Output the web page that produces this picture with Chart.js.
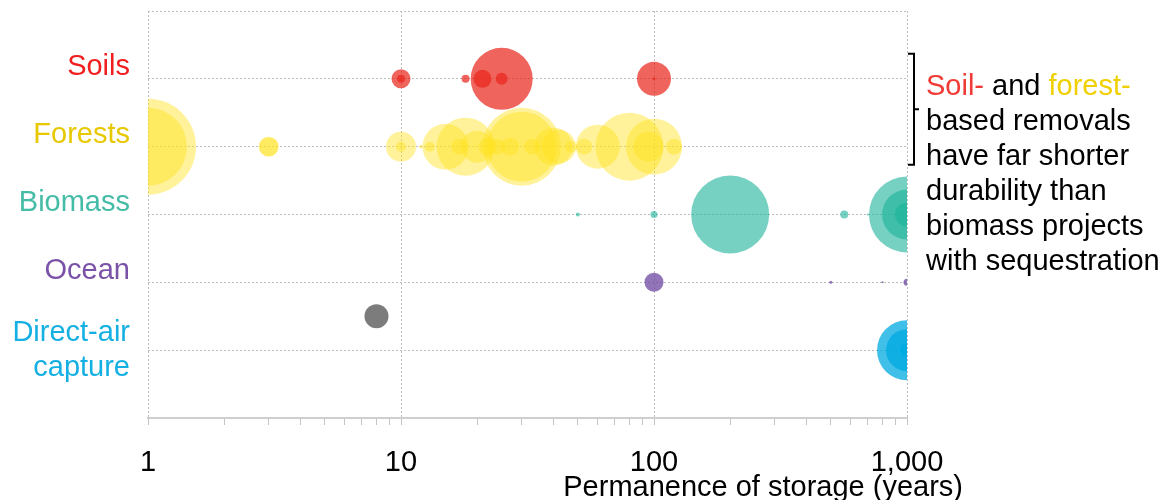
<!DOCTYPE html>
<html>
<head>
<meta charset="utf-8">
<script src="https://cdn.jsdelivr.net/npm/chart.js@4.4.1/dist/chart.umd.min.js"></script>
<style>
  html, body { margin: 0; padding: 0; background: #fff; }
</style>
</head>
<body>
<canvas id="chart" width="1164" height="500"></canvas>
<script>
const FONT_FAMILY = "'Liberation Sans', Arial, sans-serif";

// rows, top to bottom
const categories = ["Soils", "Forests", "Biomass", "Ocean", ["Direct-air", "capture"]];
const categoryColors = ["#f01e1e", "#e8c800", "#45bca6", "#7a52a8", "#14b0e3"];

// permanence (years) and bubble radius (px) for each project
const soilYears = [10, 10, 18, 21, 25, 25, 100, 100];
const soilRadii = [9.5, 4, 4, 9, 31, 6, 17, 1.5];

const forestYears = [1, 1, 3, 3, 10, 10, 12, 13, 15, 17, 18, 20, 22, 24, 27, 30, 30, 33, 40, 42, 47, 53, 60, 80, 95, 100, 120];
const forestRadii = [48, 39, 10, 9.5, 15, 5, 2, 5, 23, 8, 29, 16, 9, 8, 9, 39, 35, 8, 19, 17, 6, 8, 22, 34, 15, 28, 8];

const biomassYears = [50, 100, 200, 565, 700, 1000, 1000, 1000];
const biomassRadii = [2, 3.5, 39, 4, 1, 38, 25, 12];

const oceanYears = [100, 500, 800, 1000];
const oceanRadii = [9.5, 1.5, 1, 3.5];

const dacYears = [1000, 1000, 1000];
const dacRadii = [30, 21, 7];

const otherYears = [8];
const otherRadii = [12];
const otherRows = [4.5];

// x axis
const xTickValues = [1, 2, 3, 4, 5, 6, 7, 8, 9, 10, 20, 30, 40, 50, 60, 70, 80, 90,
  100, 200, 300, 400, 500, 600, 700, 800, 900, 1000];
const majorTicks = [1, 10, 100, 1000];
const majorLabels = ["1", "10", "100", "1,000"];
const xTitle = "Permanence of storage (years)";

const noteLines = ["based removals", "have far shorter", "durability than", "biomass projects", "with sequestration"];

function bubbles(years, radii, row) {
  return years.map((x, i) => ({ x: x, y: Array.isArray(row) ? row[i] : row, r: radii[i] }));
}

const datasets = [
  { label: "Soils", data: bubbles(soilYears, soilRadii, 1), backgroundColor: "rgba(232,35,25,0.7)" },
  { label: "Forests", data: bubbles(forestYears, forestRadii, 2), backgroundColor: "rgba(255,226,31,0.45)" },
  { label: "Biomass", data: bubbles(biomassYears, biomassRadii, 3), backgroundColor: "rgba(26,178,154,0.6)" },
  { label: "Ocean", data: bubbles(oceanYears, oceanRadii, 4), backgroundColor: "rgba(110,70,160,0.75)" },
  { label: "Direct-air capture", data: bubbles(dacYears, dacRadii, 5), backgroundColor: "rgba(0,170,225,0.75)" },
  { label: "Other", data: bubbles(otherYears, otherRadii, otherRows), backgroundColor: "rgba(80,80,80,0.75)" }
];
datasets.forEach(d => { d.borderWidth = 0; d.hoverBorderWidth = 0; });

// ================= ANNOTATIONS =================
const notePlugin = {
  id: "note",
  afterDraw(chart) {
    const ctx = chart.ctx;
    const area = chart.chartArea;
    const y = chart.scales.y;
    ctx.save();
    ctx.font = "29px " + FONT_FAMILY;
    ctx.fillStyle = "#000";

    // axis title, right aligned past the plot edge
    ctx.textAlign = "right";
    ctx.textBaseline = "middle";
    ctx.fillText(xTitle, area.right + 56, 488);

    // bracket round the soil and forest rows
    const top = y.getPixelForValue(1) - 25;
    const bottom = y.getPixelForValue(2) + 18;
    const bx = area.right + 7;
    ctx.strokeStyle = "#000";
    ctx.lineWidth = 2;
    ctx.beginPath();
    ctx.moveTo(bx - 6, top);
    ctx.lineTo(bx, top);
    ctx.lineTo(bx, bottom);
    ctx.lineTo(bx - 6, bottom);
    ctx.moveTo(bx, (top + bottom) / 2);
    ctx.lineTo(bx + 5, (top + bottom) / 2);
    ctx.stroke();

    // note text
    ctx.textAlign = "left";
    ctx.textBaseline = "alphabetic";
    let tx = area.right + 19;
    let ty = 95;
    const parts = [["Soil-", "#f03a36"], [" and ", "#000"], ["forest-", "#f0d000"]];
    parts.forEach(([t, c]) => {
      ctx.fillStyle = c;
      ctx.fillText(t, tx, ty);
      tx += ctx.measureText(t).width;
    });
    ctx.fillStyle = "#000";
    noteLines.forEach((t, i) => ctx.fillText(t, area.right + 19, ty + 35 * (i + 1)));
    ctx.restore();
  }
};

// ================= CHART =================
new Chart(document.getElementById("chart"), {
  type: "bubble",
  data: { datasets: datasets },
  plugins: [notePlugin],
  options: {
    responsive: false,
    animation: false,
    events: [],
    layout: { autoPadding: false, padding: { left: 0, right: 257, top: 11, bottom: 0 } },
    plugins: { legend: { display: false }, tooltip: { enabled: false } },
    font: { family: FONT_FAMILY },
    scales: {
      x: {
        type: "logarithmic",
        min: 1,
        max: 1000,
        afterBuildTicks(scale) {
          scale.ticks = xTickValues.map(v => ({ value: v, major: majorTicks.includes(v) }));
        },
        afterFit(scale) {
          scale.height = 82;
          scale.paddingLeft = 0;
          scale.paddingRight = 0;
        },
        ticks: {
          autoSkip: false,
          maxRotation: 0,
          padding: 21,
          color: "#000",
          font: { size: 29, family: FONT_FAMILY },
          callback: (value) => {
            const i = majorTicks.indexOf(value);
            return i >= 0 ? majorLabels[i] : "";
          }
        },
        grid: {
          color: ctx => (ctx.tick && majorTicks.includes(ctx.tick.value)) ? "#bdbdbd" : "rgba(0,0,0,0)",
          lineWidth: 1,
          tickColor: "#c4c4c4",
          tickLength: 7,
          tickWidth: 1
        },
        border: { display: true, color: "#cfcfcf", width: 2, dash: [2, 2] }
      },
      y: {
        type: "linear",
        min: 0,
        max: 6,
        reverse: true,
        afterFit(scale) {
          scale.width = 148;
          scale.paddingTop = 0;
          scale.paddingBottom = 0;
        },
        ticks: {
          stepSize: 1,
          autoSkip: false,
          padding: 18,
          // single-line names sit a little above their row line
          font: ctx => ({
            size: 29,
            family: FONT_FAMILY,
            lineHeight: (ctx.tick && Array.isArray(categories[ctx.tick.value - 1])) ? 1.2 : 0.8
          }),
          color: ctx => categoryColors[ctx.tick.value - 1] || "#000",
          callback: (value) => {
            const label = categories[value - 1];
            if (!label) return "";
            return Array.isArray(label) ? label : [label, ""];
          }
        },
        grid: {
          drawTicks: false,
          color: ctx => (ctx.tick && ctx.tick.value < 6) ? "#bdbdbd" : "rgba(0,0,0,0)",
          lineWidth: 1
        },
        border: { display: false, dash: [2, 2] }
      }
    }
  }
});
</script>
</body>
</html>
